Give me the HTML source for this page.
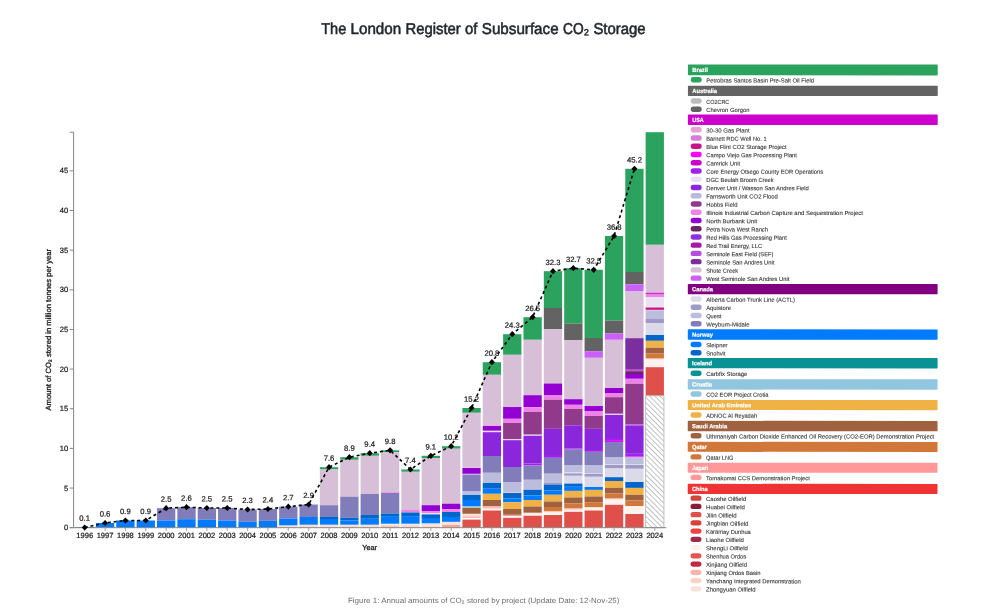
<!DOCTYPE html>
<html lang="en"><head><meta charset="utf-8"><title>The London Register of Subsurface CO2 Storage</title>
<style>
html,body{margin:0;padding:0;background:#fff;}
body{width:1000px;height:610px;overflow:hidden;font-family:"Liberation Sans",sans-serif;}
svg{display:block;filter:blur(0.35px);}
text{font-family:"Liberation Sans",sans-serif;text-rendering:geometricPrecision;}
.tick{font-size:7.55px;fill:#1a1a1a;stroke:#1a1a1a;stroke-width:0.22px;}
.val{font-size:7.7px;fill:#1a1a1a;text-anchor:middle;stroke:#1a1a1a;stroke-width:0.22px;}
.lh{font-size:6.0px;font-weight:bold;fill:#fff;stroke:#fff;stroke-width:0.2px;}
.ll{font-size:5.85px;fill:#333;stroke:#333;stroke-width:0.1px;}
</style></head><body>
<svg width="1000" height="610" viewBox="0 0 1000 610">
<defs><pattern id="hatch" patternUnits="userSpaceOnUse" width="3.65" height="3.65" patternTransform="rotate(-45)"><rect width="3.65" height="3.65" fill="#fff"/><line x1="0" y1="0" x2="0" y2="3.65" stroke="#808488" stroke-width="1.0"/></pattern></defs>
<rect width="1000" height="610" fill="#fff"/>
<text y="33.9" font-size="15.7px" fill="#24282e" stroke="#24282e" stroke-width="0.55"><tspan x="321.2" textLength="25.1" lengthAdjust="spacingAndGlyphs">The</tspan> <tspan x="350.5" textLength="50.7" lengthAdjust="spacingAndGlyphs">London</tspan> <tspan x="405.4" textLength="55.4" lengthAdjust="spacingAndGlyphs">Register</tspan> <tspan x="465" textLength="12.4" lengthAdjust="spacingAndGlyphs">of</tspan> <tspan x="481.8" textLength="76.8" lengthAdjust="spacingAndGlyphs">Subsurface</tspan> <tspan x="563" textLength="26" lengthAdjust="spacingAndGlyphs">CO₂</tspan> <tspan x="593.4" textLength="52.2" lengthAdjust="spacingAndGlyphs">Storage</tspan></text>
<g shape-rendering="auto">
<rect x="75.55" y="527.1" width="18.3" height="0.9" fill="#007bff"/>
<rect x="95.91" y="523" width="18.3" height="4.7" fill="#007bff"/>
<rect x="116.27" y="520.5" width="18.3" height="7.2" fill="#007bff"/>
<rect x="136.63" y="520.5" width="18.3" height="7.2" fill="#007bff"/>
<rect x="156.99" y="508.2" width="18.3" height="12.3" fill="#807dba"/>
<rect x="156.99" y="520.5" width="18.3" height="7.2" fill="#007bff"/>
<rect x="177.35" y="507.2" width="18.3" height="12" fill="#807dba"/>
<rect x="177.35" y="519.2" width="18.3" height="8.5" fill="#007bff"/>
<rect x="197.71" y="508" width="18.3" height="11.8" fill="#807dba"/>
<rect x="197.71" y="519.8" width="18.3" height="7.9" fill="#007bff"/>
<rect x="218.07" y="508" width="18.3" height="12.5" fill="#807dba"/>
<rect x="218.07" y="520.5" width="18.3" height="7.2" fill="#007bff"/>
<rect x="238.43" y="509.5" width="18.3" height="12.3" fill="#807dba"/>
<rect x="238.43" y="521.8" width="18.3" height="5.9" fill="#007bff"/>
<rect x="258.79" y="509" width="18.3" height="11.8" fill="#807dba"/>
<rect x="258.79" y="520.8" width="18.3" height="6.9" fill="#007bff"/>
<rect x="279.15" y="506.7" width="18.3" height="11.8" fill="#807dba"/>
<rect x="279.15" y="518.5" width="18.3" height="6.9" fill="#007bff"/>
<rect x="279.15" y="525.9" width="18.3" height="1.8" fill="#fdd9cc"/>
<rect x="299.51" y="504.5" width="18.3" height="12.5" fill="#807dba"/>
<rect x="299.51" y="517" width="18.3" height="7.7" fill="#007bff"/>
<rect x="299.51" y="525.2" width="18.3" height="2.5" fill="#fdd9cc"/>
<rect x="319.87" y="467.2" width="18.3" height="2.3" fill="#2ca25f"/>
<rect x="319.87" y="469.5" width="18.3" height="35.7" fill="#d8bfd8"/>
<rect x="319.87" y="505.2" width="18.3" height="11.8" fill="#807dba"/>
<rect x="319.87" y="517" width="18.3" height="2" fill="#0066cc"/>
<rect x="319.87" y="519" width="18.3" height="5.7" fill="#007bff"/>
<rect x="319.87" y="525.2" width="18.3" height="2.5" fill="#fdd9cc"/>
<rect x="340.23" y="457.2" width="18.3" height="2.6" fill="#2ca25f"/>
<rect x="340.23" y="459.8" width="18.3" height="36.9" fill="#d8bfd8"/>
<rect x="340.23" y="496.7" width="18.3" height="21" fill="#807dba"/>
<rect x="340.23" y="517.7" width="18.3" height="2.8" fill="#0066cc"/>
<rect x="340.23" y="520.5" width="18.3" height="4.2" fill="#007bff"/>
<rect x="340.23" y="525.2" width="18.3" height="2.5" fill="#fdd9cc"/>
<rect x="360.59" y="453.2" width="18.3" height="2.6" fill="#2ca25f"/>
<rect x="360.59" y="455.8" width="18.3" height="38.2" fill="#d8bfd8"/>
<rect x="360.59" y="494" width="18.3" height="21" fill="#807dba"/>
<rect x="360.59" y="515" width="18.3" height="3.8" fill="#0066cc"/>
<rect x="360.59" y="518.8" width="18.3" height="5.9" fill="#007bff"/>
<rect x="360.59" y="525.2" width="18.3" height="2.5" fill="#fdd9cc"/>
<rect x="380.95" y="450.3" width="18.3" height="1.9" fill="#2ca25f"/>
<rect x="380.95" y="452.2" width="18.3" height="40" fill="#d8bfd8"/>
<rect x="380.95" y="492.2" width="18.3" height="0.8" fill="#ee82e6"/>
<rect x="380.95" y="493" width="18.3" height="20.5" fill="#807dba"/>
<rect x="380.95" y="513.5" width="18.3" height="3.3" fill="#0066cc"/>
<rect x="380.95" y="516.8" width="18.3" height="6.9" fill="#007bff"/>
<rect x="380.95" y="524.4" width="18.3" height="1.6" fill="#fdd9cc"/>
<rect x="380.95" y="526" width="18.3" height="1.7" fill="#fcc6b8"/>
<rect x="401.31" y="469.5" width="18.3" height="2.3" fill="#2ca25f"/>
<rect x="401.31" y="471.8" width="18.3" height="38.2" fill="#d8bfd8"/>
<rect x="401.31" y="510" width="18.3" height="2.5" fill="#ee82e6"/>
<rect x="401.31" y="512.5" width="18.3" height="4.3" fill="#0066cc"/>
<rect x="401.31" y="516.8" width="18.3" height="6.9" fill="#007bff"/>
<rect x="401.31" y="524.4" width="18.3" height="3.3" fill="#fdd9cc"/>
<rect x="421.67" y="455.8" width="18.3" height="2.2" fill="#2ca25f"/>
<rect x="421.67" y="458" width="18.3" height="47.2" fill="#d8bfd8"/>
<rect x="421.67" y="505.2" width="18.3" height="5.8" fill="#9400d3"/>
<rect x="421.67" y="511" width="18.3" height="2.2" fill="#ee82e6"/>
<rect x="421.67" y="513.2" width="18.3" height="1.2" fill="#e8e2f2"/>
<rect x="421.67" y="514.4" width="18.3" height="3.6" fill="#0066cc"/>
<rect x="421.67" y="518" width="18.3" height="5" fill="#007bff"/>
<rect x="421.67" y="523" width="18.3" height="0.8" fill="#92c5de"/>
<rect x="421.67" y="524" width="18.3" height="1.6" fill="#fbe2d8"/>
<rect x="421.67" y="525.6" width="18.3" height="2.1" fill="#fdd9cc"/>
<rect x="442.03" y="446.2" width="18.3" height="2.5" fill="#2ca25f"/>
<rect x="442.03" y="448.7" width="18.3" height="55" fill="#d8bfd8"/>
<rect x="442.03" y="503.7" width="18.3" height="5.5" fill="#9400d3"/>
<rect x="442.03" y="509.2" width="18.3" height="2.8" fill="#ee82e6"/>
<rect x="442.03" y="512" width="18.3" height="5" fill="#0066cc"/>
<rect x="442.03" y="517" width="18.3" height="4.8" fill="#007bff"/>
<rect x="442.03" y="522" width="18.3" height="3" fill="#fbe2d8"/>
<rect x="442.03" y="525" width="18.3" height="2.7" fill="#f4a598"/>
<rect x="462.39" y="408" width="18.3" height="4.8" fill="#2ca25f"/>
<rect x="462.39" y="412.8" width="18.3" height="55" fill="#d8bfd8"/>
<rect x="462.39" y="468" width="18.3" height="5.8" fill="#9400d3"/>
<rect x="462.39" y="474.5" width="18.3" height="16.5" fill="#807dba"/>
<rect x="462.39" y="491" width="18.3" height="3.6" fill="#bcbddc"/>
<rect x="462.39" y="494.8" width="18.3" height="5.2" fill="#0066cc"/>
<rect x="462.39" y="500" width="18.3" height="6" fill="#007bff"/>
<rect x="462.39" y="506" width="18.3" height="1.6" fill="#92c5de"/>
<rect x="462.39" y="507.8" width="18.3" height="6" fill="#a0613e"/>
<rect x="462.39" y="513.9" width="18.3" height="2.5" fill="#fbe2d8"/>
<rect x="462.39" y="516.4" width="18.3" height="1.5" fill="#fbb4ae"/>
<rect x="462.39" y="519.6" width="18.3" height="8.1" fill="#e0504a"/>
<rect x="482.75" y="362.2" width="18.3" height="12.6" fill="#2ca25f"/>
<rect x="482.75" y="374.8" width="18.3" height="50.2" fill="#d8bfd8"/>
<rect x="482.75" y="425.3" width="18.3" height="0.7" fill="#ee82e6"/>
<rect x="482.75" y="426" width="18.3" height="4.8" fill="#9400d3"/>
<rect x="482.75" y="430.8" width="18.3" height="1.4" fill="#e8e2f2"/>
<rect x="482.75" y="432.2" width="18.3" height="23.8" fill="#8a26dc"/>
<rect x="482.75" y="456" width="18.3" height="16.8" fill="#807dba"/>
<rect x="482.75" y="472.8" width="18.3" height="9.8" fill="#bcbddc"/>
<rect x="482.75" y="482.8" width="18.3" height="5.4" fill="#0066cc"/>
<rect x="482.75" y="488.2" width="18.3" height="5.6" fill="#007bff"/>
<rect x="482.75" y="493.8" width="18.3" height="6.2" fill="#f0b244"/>
<rect x="482.75" y="500" width="18.3" height="6" fill="#a0613e"/>
<rect x="482.75" y="506" width="18.3" height="2.5" fill="#fbb4ae"/>
<rect x="482.75" y="508.5" width="18.3" height="0.9" fill="#fdd9cc"/>
<rect x="482.75" y="510.5" width="18.3" height="17.2" fill="#e0504a"/>
<rect x="503.11" y="334.2" width="18.3" height="20.6" fill="#2ca25f"/>
<rect x="503.11" y="354.8" width="18.3" height="52.2" fill="#d8bfd8"/>
<rect x="503.11" y="407" width="18.3" height="11.8" fill="#9400d3"/>
<rect x="503.11" y="418.8" width="18.3" height="4.2" fill="#ee82e6"/>
<rect x="503.11" y="423" width="18.3" height="16" fill="#913a8c"/>
<rect x="503.11" y="439" width="18.3" height="1.2" fill="#e4d9f0"/>
<rect x="503.11" y="440.2" width="18.3" height="26.8" fill="#8a26dc"/>
<rect x="503.11" y="467" width="18.3" height="15" fill="#807dba"/>
<rect x="503.11" y="482" width="18.3" height="10.6" fill="#bcbddc"/>
<rect x="503.11" y="492.6" width="18.3" height="0.4" fill="#fbb4ae"/>
<rect x="503.11" y="493" width="18.3" height="5.5" fill="#0066cc"/>
<rect x="503.11" y="498.5" width="18.3" height="3.8" fill="#007bff"/>
<rect x="503.11" y="502.3" width="18.3" height="6.7" fill="#f0b244"/>
<rect x="503.11" y="509" width="18.3" height="5.8" fill="#a0613e"/>
<rect x="503.11" y="514.9" width="18.3" height="1.3" fill="#f29a94"/>
<rect x="503.11" y="516.2" width="18.3" height="0.8" fill="#fff1ee"/>
<rect x="503.11" y="517.8" width="18.3" height="9.9" fill="#e0504a"/>
<rect x="523.47" y="317.2" width="18.3" height="22.6" fill="#2ca25f"/>
<rect x="523.47" y="339.8" width="18.3" height="55.4" fill="#d8bfd8"/>
<rect x="523.47" y="395.2" width="18.3" height="12" fill="#9400d3"/>
<rect x="523.47" y="407.2" width="18.3" height="4.8" fill="#ee82e6"/>
<rect x="523.47" y="412" width="18.3" height="22.7" fill="#913a8c"/>
<rect x="523.47" y="434.7" width="18.3" height="1.1" fill="#e4d9f0"/>
<rect x="523.47" y="435.8" width="18.3" height="27.7" fill="#8a26dc"/>
<rect x="523.47" y="463.5" width="18.3" height="2" fill="#a020f0"/>
<rect x="523.47" y="465.5" width="18.3" height="14.3" fill="#807dba"/>
<rect x="523.47" y="479.8" width="18.3" height="10" fill="#bcbddc"/>
<rect x="523.47" y="489.8" width="18.3" height="5.7" fill="#0066cc"/>
<rect x="523.47" y="495.5" width="18.3" height="4.5" fill="#007bff"/>
<rect x="523.47" y="500" width="18.3" height="6.5" fill="#f0b244"/>
<rect x="523.47" y="506.5" width="18.3" height="6.3" fill="#a0613e"/>
<rect x="523.47" y="512.8" width="18.3" height="0.8" fill="#fdd9cc"/>
<rect x="523.47" y="513.6" width="18.3" height="1.4" fill="#fff1ee"/>
<rect x="523.47" y="515.7" width="18.3" height="12" fill="#e0504a"/>
<rect x="543.83" y="271.2" width="18.3" height="36.8" fill="#2ca25f"/>
<rect x="543.83" y="308" width="18.3" height="21.2" fill="#636363"/>
<rect x="543.83" y="329.2" width="18.3" height="54.3" fill="#d8bfd8"/>
<rect x="543.83" y="383.5" width="18.3" height="11.5" fill="#9400d3"/>
<rect x="543.83" y="395" width="18.3" height="4.8" fill="#ee82e6"/>
<rect x="543.83" y="399.8" width="18.3" height="29" fill="#913a8c"/>
<rect x="543.83" y="428.8" width="18.3" height="26.2" fill="#8a26dc"/>
<rect x="543.83" y="455" width="18.3" height="2.8" fill="#a020f0"/>
<rect x="543.83" y="457.8" width="18.3" height="15.9" fill="#807dba"/>
<rect x="543.83" y="473.7" width="18.3" height="9.1" fill="#bcbddc"/>
<rect x="543.83" y="482.8" width="18.3" height="1.8" fill="#9e9ac8"/>
<rect x="543.83" y="484.6" width="18.3" height="5.9" fill="#0066cc"/>
<rect x="543.83" y="490.5" width="18.3" height="4.3" fill="#007bff"/>
<rect x="543.83" y="494.8" width="18.3" height="6.7" fill="#f0b244"/>
<rect x="543.83" y="501.5" width="18.3" height="5.5" fill="#a0613e"/>
<rect x="543.83" y="507" width="18.3" height="4.5" fill="#d2773a"/>
<rect x="543.83" y="511.5" width="18.3" height="0.9" fill="#fdd9cc"/>
<rect x="543.83" y="512.4" width="18.3" height="2" fill="#fff1ee"/>
<rect x="543.83" y="515" width="18.3" height="12.7" fill="#e0504a"/>
<rect x="564.19" y="268.2" width="18.3" height="55.3" fill="#2ca25f"/>
<rect x="564.19" y="323.5" width="18.3" height="16.5" fill="#636363"/>
<rect x="564.19" y="340" width="18.3" height="59.2" fill="#d8bfd8"/>
<rect x="564.19" y="399.2" width="18.3" height="5.6" fill="#9400d3"/>
<rect x="564.19" y="404.8" width="18.3" height="4.2" fill="#ee82e6"/>
<rect x="564.19" y="409" width="18.3" height="16.3" fill="#913a8c"/>
<rect x="564.19" y="425.3" width="18.3" height="23.2" fill="#8a26dc"/>
<rect x="564.19" y="448.5" width="18.3" height="1.1" fill="#a020f0"/>
<rect x="564.19" y="449.6" width="18.3" height="15.4" fill="#807dba"/>
<rect x="564.19" y="465" width="18.3" height="7.2" fill="#bcbddc"/>
<rect x="564.19" y="472.2" width="18.3" height="1.2" fill="#d6d6e8"/>
<rect x="564.19" y="473.4" width="18.3" height="2.4" fill="#9e9ac8"/>
<rect x="564.19" y="475.8" width="18.3" height="7.8" fill="#dadaeb"/>
<rect x="564.19" y="483.6" width="18.3" height="3.2" fill="#0066cc"/>
<rect x="564.19" y="486.8" width="18.3" height="4.1" fill="#007bff"/>
<rect x="564.19" y="490.9" width="18.3" height="6.6" fill="#f0b244"/>
<rect x="564.19" y="497.5" width="18.3" height="6" fill="#a0613e"/>
<rect x="564.19" y="503.5" width="18.3" height="4.5" fill="#d2773a"/>
<rect x="564.19" y="508" width="18.3" height="1.7" fill="#fbb4ae"/>
<rect x="564.19" y="509.7" width="18.3" height="1.5" fill="#fff1ee"/>
<rect x="564.19" y="511.8" width="18.3" height="15.9" fill="#e0504a"/>
<rect x="584.55" y="269.8" width="18.3" height="68.2" fill="#2ca25f"/>
<rect x="584.55" y="338" width="18.3" height="13.2" fill="#636363"/>
<rect x="584.55" y="351.2" width="18.3" height="6.6" fill="#cc60fc"/>
<rect x="584.55" y="357.8" width="18.3" height="48.2" fill="#d8bfd8"/>
<rect x="584.55" y="406" width="18.3" height="5" fill="#9400d3"/>
<rect x="584.55" y="411" width="18.3" height="5" fill="#ee82e6"/>
<rect x="584.55" y="416" width="18.3" height="12.8" fill="#913a8c"/>
<rect x="584.55" y="428.8" width="18.3" height="21.2" fill="#8a26dc"/>
<rect x="584.55" y="450" width="18.3" height="1.8" fill="#a020f0"/>
<rect x="584.55" y="451.8" width="18.3" height="13.2" fill="#807dba"/>
<rect x="584.55" y="465" width="18.3" height="8" fill="#bcbddc"/>
<rect x="584.55" y="473" width="18.3" height="1" fill="#d6d6e8"/>
<rect x="584.55" y="474" width="18.3" height="2.8" fill="#9e9ac8"/>
<rect x="584.55" y="476.8" width="18.3" height="10.2" fill="#dadaeb"/>
<rect x="584.55" y="487" width="18.3" height="2.9" fill="#007bff"/>
<rect x="584.55" y="489.9" width="18.3" height="6.6" fill="#f0b244"/>
<rect x="584.55" y="496.5" width="18.3" height="5.7" fill="#a0613e"/>
<rect x="584.55" y="502.2" width="18.3" height="5" fill="#d2773a"/>
<rect x="584.55" y="507.2" width="18.3" height="0.8" fill="#fdd9cc"/>
<rect x="584.55" y="508" width="18.3" height="2" fill="#fff1ee"/>
<rect x="584.55" y="510.5" width="18.3" height="17.2" fill="#e0504a"/>
<rect x="604.91" y="236" width="18.3" height="84.5" fill="#2ca25f"/>
<rect x="604.91" y="320.5" width="18.3" height="13" fill="#636363"/>
<rect x="604.91" y="333.5" width="18.3" height="6.3" fill="#cc60fc"/>
<rect x="604.91" y="339.8" width="18.3" height="48.2" fill="#d8bfd8"/>
<rect x="604.91" y="388" width="18.3" height="5" fill="#9400d3"/>
<rect x="604.91" y="393" width="18.3" height="4.2" fill="#ee82e6"/>
<rect x="604.91" y="397.2" width="18.3" height="16.6" fill="#913a8c"/>
<rect x="604.91" y="413.8" width="18.3" height="1.1" fill="#e8e2f2"/>
<rect x="604.91" y="414.9" width="18.3" height="23.1" fill="#8a26dc"/>
<rect x="604.91" y="438" width="18.3" height="2.9" fill="#a020f0"/>
<rect x="604.91" y="440.9" width="18.3" height="1.1" fill="#ff00ff"/>
<rect x="604.91" y="442" width="18.3" height="15" fill="#807dba"/>
<rect x="604.91" y="457" width="18.3" height="7.2" fill="#bcbddc"/>
<rect x="604.91" y="464.2" width="18.3" height="0.8" fill="#d6d6e8"/>
<rect x="604.91" y="465" width="18.3" height="3.5" fill="#9e9ac8"/>
<rect x="604.91" y="468.5" width="18.3" height="8.7" fill="#dadaeb"/>
<rect x="604.91" y="477.2" width="18.3" height="3.8" fill="#0066cc"/>
<rect x="604.91" y="481" width="18.3" height="6.8" fill="#f0b244"/>
<rect x="604.91" y="487.8" width="18.3" height="5.7" fill="#a0613e"/>
<rect x="604.91" y="493.5" width="18.3" height="5" fill="#d2773a"/>
<rect x="604.91" y="498.5" width="18.3" height="1" fill="#fbb4ae"/>
<rect x="604.91" y="499.5" width="18.3" height="5.3" fill="#fff1ee"/>
<rect x="604.91" y="504.8" width="18.3" height="22.9" fill="#e0504a"/>
<rect x="625.27" y="168.8" width="18.3" height="103.2" fill="#2ca25f"/>
<rect x="625.27" y="272" width="18.3" height="12.3" fill="#636363"/>
<rect x="625.27" y="284.3" width="18.3" height="6.7" fill="#cc60fc"/>
<rect x="625.27" y="291" width="18.3" height="47.2" fill="#d8bfd8"/>
<rect x="625.27" y="338.2" width="18.3" height="30.8" fill="#7b2f9e"/>
<rect x="625.27" y="369" width="18.3" height="1.6" fill="#b64fe0"/>
<rect x="625.27" y="370.6" width="18.3" height="1.1" fill="#85007f"/>
<rect x="625.27" y="371.7" width="18.3" height="2.3" fill="#6b2565"/>
<rect x="625.27" y="374" width="18.3" height="4.8" fill="#9400d3"/>
<rect x="625.27" y="378.8" width="18.3" height="5" fill="#ee82e6"/>
<rect x="625.27" y="383.8" width="18.3" height="40.5" fill="#913a8c"/>
<rect x="625.27" y="424.3" width="18.3" height="1.2" fill="#b64fe0"/>
<rect x="625.27" y="425.5" width="18.3" height="28.3" fill="#8a26dc"/>
<rect x="625.27" y="453.8" width="18.3" height="2.6" fill="#a020f0"/>
<rect x="625.27" y="456.4" width="18.3" height="0.6" fill="#ff00ff"/>
<rect x="625.27" y="457" width="18.3" height="7.2" fill="#bcbddc"/>
<rect x="625.27" y="464.2" width="18.3" height="0.8" fill="#d6d6e8"/>
<rect x="625.27" y="465" width="18.3" height="3.8" fill="#9e9ac8"/>
<rect x="625.27" y="468.8" width="18.3" height="13.2" fill="#dadaeb"/>
<rect x="625.27" y="482" width="18.3" height="5.9" fill="#0066cc"/>
<rect x="625.27" y="487.9" width="18.3" height="6.9" fill="#f0b244"/>
<rect x="625.27" y="494.8" width="18.3" height="5.7" fill="#a0613e"/>
<rect x="625.27" y="500.5" width="18.3" height="5.5" fill="#d2773a"/>
<rect x="625.27" y="506" width="18.3" height="8" fill="#fff1ee"/>
<rect x="625.27" y="514" width="18.3" height="13.7" fill="#e0504a"/>
<rect x="645.63" y="132.2" width="18.3" height="112.6" fill="#2ca25f"/>
<rect x="645.63" y="244.8" width="18.3" height="48" fill="#d8bfd8"/>
<rect x="645.63" y="292.8" width="18.3" height="1.1" fill="#cc00cc"/>
<rect x="645.63" y="293.9" width="18.3" height="3.2" fill="#ee82e6"/>
<rect x="645.63" y="297.1" width="18.3" height="10.4" fill="#e8e2f2"/>
<rect x="645.63" y="307.5" width="18.3" height="2.4" fill="#c71585"/>
<rect x="645.63" y="309.9" width="18.3" height="0.5" fill="#d8bfd8"/>
<rect x="645.63" y="310.4" width="18.3" height="8.1" fill="#bcbddc"/>
<rect x="645.63" y="318.5" width="18.3" height="4.5" fill="#9e9ac8"/>
<rect x="645.63" y="323" width="18.3" height="12" fill="#dadaeb"/>
<rect x="645.63" y="335" width="18.3" height="5.8" fill="#0066cc"/>
<rect x="645.63" y="340.8" width="18.3" height="7" fill="#f0b244"/>
<rect x="645.63" y="347.8" width="18.3" height="5.7" fill="#a0613e"/>
<rect x="645.63" y="353.5" width="18.3" height="5" fill="#d2773a"/>
<rect x="645.63" y="358.5" width="18.3" height="1" fill="#fbb4ae"/>
<rect x="645.63" y="359.5" width="18.3" height="7.7" fill="#fff1ee"/>
<rect x="645.63" y="367.2" width="18.3" height="28.6" fill="#e0504a"/>
<rect x="645.63" y="395.8" width="18.3" height="131.9" fill="url(#hatch)" stroke="#b8b8b8" stroke-width="0.9"/>
</g>
<g stroke="#858585" stroke-width="1" fill="none">
<path d="M69.7,132.2 H73.6 V527.7 H69.7"/>
<path d="M73.6,527.7 H666.3"/>
<line x1="69.7" x2="73.6" y1="527.7" y2="527.7"/>
<line x1="69.7" x2="73.6" y1="488.05" y2="488.05"/>
<line x1="69.7" x2="73.6" y1="448.4" y2="448.4"/>
<line x1="69.7" x2="73.6" y1="408.75" y2="408.75"/>
<line x1="69.7" x2="73.6" y1="369.1" y2="369.1"/>
<line x1="69.7" x2="73.6" y1="329.45" y2="329.45"/>
<line x1="69.7" x2="73.6" y1="289.8" y2="289.8"/>
<line x1="69.7" x2="73.6" y1="250.15" y2="250.15"/>
<line x1="69.7" x2="73.6" y1="210.5" y2="210.5"/>
<line x1="69.7" x2="73.6" y1="170.85" y2="170.85"/>
<line x1="84.7" x2="84.7" y1="527.7" y2="531" stroke="#909090" stroke-width="0.8"/>
<line x1="105.06" x2="105.06" y1="527.7" y2="531" stroke="#909090" stroke-width="0.8"/>
<line x1="125.42" x2="125.42" y1="527.7" y2="531" stroke="#909090" stroke-width="0.8"/>
<line x1="145.78" x2="145.78" y1="527.7" y2="531" stroke="#909090" stroke-width="0.8"/>
<line x1="166.14" x2="166.14" y1="527.7" y2="531" stroke="#909090" stroke-width="0.8"/>
<line x1="186.5" x2="186.5" y1="527.7" y2="531" stroke="#909090" stroke-width="0.8"/>
<line x1="206.86" x2="206.86" y1="527.7" y2="531" stroke="#909090" stroke-width="0.8"/>
<line x1="227.22" x2="227.22" y1="527.7" y2="531" stroke="#909090" stroke-width="0.8"/>
<line x1="247.58" x2="247.58" y1="527.7" y2="531" stroke="#909090" stroke-width="0.8"/>
<line x1="267.94" x2="267.94" y1="527.7" y2="531" stroke="#909090" stroke-width="0.8"/>
<line x1="288.3" x2="288.3" y1="527.7" y2="531" stroke="#909090" stroke-width="0.8"/>
<line x1="308.66" x2="308.66" y1="527.7" y2="531" stroke="#909090" stroke-width="0.8"/>
<line x1="329.02" x2="329.02" y1="527.7" y2="531" stroke="#909090" stroke-width="0.8"/>
<line x1="349.38" x2="349.38" y1="527.7" y2="531" stroke="#909090" stroke-width="0.8"/>
<line x1="369.74" x2="369.74" y1="527.7" y2="531" stroke="#909090" stroke-width="0.8"/>
<line x1="390.1" x2="390.1" y1="527.7" y2="531" stroke="#909090" stroke-width="0.8"/>
<line x1="410.46" x2="410.46" y1="527.7" y2="531" stroke="#909090" stroke-width="0.8"/>
<line x1="430.82" x2="430.82" y1="527.7" y2="531" stroke="#909090" stroke-width="0.8"/>
<line x1="451.18" x2="451.18" y1="527.7" y2="531" stroke="#909090" stroke-width="0.8"/>
<line x1="471.54" x2="471.54" y1="527.7" y2="531" stroke="#909090" stroke-width="0.8"/>
<line x1="491.9" x2="491.9" y1="527.7" y2="531" stroke="#909090" stroke-width="0.8"/>
<line x1="512.26" x2="512.26" y1="527.7" y2="531" stroke="#909090" stroke-width="0.8"/>
<line x1="532.62" x2="532.62" y1="527.7" y2="531" stroke="#909090" stroke-width="0.8"/>
<line x1="552.98" x2="552.98" y1="527.7" y2="531" stroke="#909090" stroke-width="0.8"/>
<line x1="573.34" x2="573.34" y1="527.7" y2="531" stroke="#909090" stroke-width="0.8"/>
<line x1="593.7" x2="593.7" y1="527.7" y2="531" stroke="#909090" stroke-width="0.8"/>
<line x1="614.06" x2="614.06" y1="527.7" y2="531" stroke="#909090" stroke-width="0.8"/>
<line x1="634.42" x2="634.42" y1="527.7" y2="531" stroke="#909090" stroke-width="0.8"/>
<line x1="654.78" x2="654.78" y1="527.7" y2="531" stroke="#909090" stroke-width="0.8"/>
</g>
<g class="tick">
<text x="68.1" y="530.3" text-anchor="end">0</text>
<text x="68.1" y="490.65" text-anchor="end">5</text>
<text x="68.1" y="451" text-anchor="end">10</text>
<text x="68.1" y="411.35" text-anchor="end">15</text>
<text x="68.1" y="371.7" text-anchor="end">20</text>
<text x="68.1" y="332.05" text-anchor="end">25</text>
<text x="68.1" y="292.4" text-anchor="end">30</text>
<text x="68.1" y="252.75" text-anchor="end">35</text>
<text x="68.1" y="213.1" text-anchor="end">40</text>
<text x="68.1" y="173.45" text-anchor="end">45</text>
<text x="84.7" y="537.8" text-anchor="middle">1996</text>
<text x="105.06" y="537.8" text-anchor="middle">1997</text>
<text x="125.42" y="537.8" text-anchor="middle">1998</text>
<text x="145.78" y="537.8" text-anchor="middle">1999</text>
<text x="166.14" y="537.8" text-anchor="middle">2000</text>
<text x="186.5" y="537.8" text-anchor="middle">2001</text>
<text x="206.86" y="537.8" text-anchor="middle">2002</text>
<text x="227.22" y="537.8" text-anchor="middle">2003</text>
<text x="247.58" y="537.8" text-anchor="middle">2004</text>
<text x="267.94" y="537.8" text-anchor="middle">2005</text>
<text x="288.3" y="537.8" text-anchor="middle">2006</text>
<text x="308.66" y="537.8" text-anchor="middle">2007</text>
<text x="329.02" y="537.8" text-anchor="middle">2008</text>
<text x="349.38" y="537.8" text-anchor="middle">2009</text>
<text x="369.74" y="537.8" text-anchor="middle">2010</text>
<text x="390.1" y="537.8" text-anchor="middle">2011</text>
<text x="410.46" y="537.8" text-anchor="middle">2012</text>
<text x="430.82" y="537.8" text-anchor="middle">2013</text>
<text x="451.18" y="537.8" text-anchor="middle">2014</text>
<text x="471.54" y="537.8" text-anchor="middle">2015</text>
<text x="491.9" y="537.8" text-anchor="middle">2016</text>
<text x="512.26" y="537.8" text-anchor="middle">2017</text>
<text x="532.62" y="537.8" text-anchor="middle">2018</text>
<text x="552.98" y="537.8" text-anchor="middle">2019</text>
<text x="573.34" y="537.8" text-anchor="middle">2020</text>
<text x="593.7" y="537.8" text-anchor="middle">2021</text>
<text x="614.06" y="537.8" text-anchor="middle">2022</text>
<text x="634.42" y="537.8" text-anchor="middle">2023</text>
<text x="654.78" y="537.8" text-anchor="middle">2024</text>
<text x="369.6" y="549.6" text-anchor="middle" font-size="7.3px" stroke-width="0.3px">Year</text>
<text transform="translate(51.3,329.7) rotate(-90)" text-anchor="middle" font-size="7.6px" stroke-width="0.3px" textLength="161.7" lengthAdjust="spacingAndGlyphs">Amount of CO₂ stored in million tonnes per year</text>
</g>
<path d="M84.7,527.5L105.06,523L125.42,520.5L145.78,520.5L166.14,508.2L186.5,507.2L206.86,508L227.22,508L247.58,509.5L267.94,509L288.3,506.7L308.66,504.5L329.02,467.2L349.38,457.2L369.74,453.2L390.1,450.3L410.46,469.5L430.82,455.8L451.18,446.2L471.54,408L491.9,362.2L512.26,334.2L532.62,317.2L552.98,271.2L573.34,268.2L593.7,269.8L614.06,236L634.42,168.8" fill="none" stroke="#000" stroke-width="1.6" stroke-dasharray="3 2.9"/>
<g fill="#000">
<path d="M84.7,524.4L87.7,527.5L84.7,530.6L81.7,527.5Z"/>
<path d="M105.06,519.9L108.06,523L105.06,526.1L102.06,523Z"/>
<path d="M125.42,517.4L128.42,520.5L125.42,523.6L122.42,520.5Z"/>
<path d="M145.78,517.4L148.78,520.5L145.78,523.6L142.78,520.5Z"/>
<path d="M166.14,505.1L169.14,508.2L166.14,511.3L163.14,508.2Z"/>
<path d="M186.5,504.1L189.5,507.2L186.5,510.3L183.5,507.2Z"/>
<path d="M206.86,504.9L209.86,508L206.86,511.1L203.86,508Z"/>
<path d="M227.22,504.9L230.22,508L227.22,511.1L224.22,508Z"/>
<path d="M247.58,506.4L250.58,509.5L247.58,512.6L244.58,509.5Z"/>
<path d="M267.94,505.9L270.94,509L267.94,512.1L264.94,509Z"/>
<path d="M288.3,503.6L291.3,506.7L288.3,509.8L285.3,506.7Z"/>
<path d="M308.66,501.4L311.66,504.5L308.66,507.6L305.66,504.5Z"/>
<path d="M329.02,464.1L332.02,467.2L329.02,470.3L326.02,467.2Z"/>
<path d="M349.38,454.1L352.38,457.2L349.38,460.3L346.38,457.2Z"/>
<path d="M369.74,450.1L372.74,453.2L369.74,456.3L366.74,453.2Z"/>
<path d="M390.1,447.2L393.1,450.3L390.1,453.4L387.1,450.3Z"/>
<path d="M410.46,466.4L413.46,469.5L410.46,472.6L407.46,469.5Z"/>
<path d="M430.82,452.7L433.82,455.8L430.82,458.9L427.82,455.8Z"/>
<path d="M451.18,443.1L454.18,446.2L451.18,449.3L448.18,446.2Z"/>
<path d="M471.54,404.9L474.54,408L471.54,411.1L468.54,408Z"/>
<path d="M491.9,359.1L494.9,362.2L491.9,365.3L488.9,362.2Z"/>
<path d="M512.26,331.1L515.26,334.2L512.26,337.3L509.26,334.2Z"/>
<path d="M532.62,314.1L535.62,317.2L532.62,320.3L529.62,317.2Z"/>
<path d="M552.98,268.1L555.98,271.2L552.98,274.3L549.98,271.2Z"/>
<path d="M573.34,265.1L576.34,268.2L573.34,271.3L570.34,268.2Z"/>
<path d="M593.7,266.7L596.7,269.8L593.7,272.9L590.7,269.8Z"/>
<path d="M614.06,232.9L617.06,236L614.06,239.1L611.06,236Z"/>
<path d="M634.42,165.7L637.42,168.8L634.42,171.9L631.42,168.8Z"/>
</g>
<g class="val" transform="rotate(0.03 370 400)">
<text x="84.7" y="520.8">0.1</text>
<text x="105.06" y="516.6">0.6</text>
<text x="125.42" y="514.1">0.9</text>
<text x="145.78" y="514.1">0.9</text>
<text x="166.14" y="501.8">2.5</text>
<text x="186.5" y="500.8">2.6</text>
<text x="206.86" y="501.6">2.5</text>
<text x="227.22" y="501.6">2.5</text>
<text x="247.58" y="503.1">2.3</text>
<text x="267.94" y="502.6">2.4</text>
<text x="288.3" y="500.3">2.7</text>
<text x="308.66" y="498.1">2.9</text>
<text x="329.02" y="460.8">7.6</text>
<text x="349.38" y="450.8">8.9</text>
<text x="369.74" y="446.8">9.4</text>
<text x="390.1" y="443.9">9.8</text>
<text x="410.46" y="463.1">7.4</text>
<text x="430.82" y="449.4">9.1</text>
<text x="451.18" y="439.8">10.2</text>
<text x="471.54" y="401.6">15.2</text>
<text x="491.9" y="355.8">20.8</text>
<text x="512.26" y="327.8">24.3</text>
<text x="532.62" y="310.8">26.5</text>
<text x="552.98" y="264.8">32.3</text>
<text x="573.34" y="261.8">32.7</text>
<text x="593.7" y="263.4">32.5</text>
<text x="614.06" y="229.6">36.8</text>
<text x="634.42" y="162.4">45.2</text>
</g>
<g transform="rotate(0.03 812 330)">
<rect x="687.8" y="64.45" width="249.8" height="10.9" rx="0.7" fill="#2ca25f"/>
<text class="lh" x="692.1" y="72.1" textLength="15.7" lengthAdjust="spacingAndGlyphs">Brazil</text>
<rect x="690.6" y="77.05" width="11" height="5.4" rx="2.7" fill="#2ca25f"/>
<text class="ll" x="706.2" y="82.5" textLength="107.7" lengthAdjust="spacingAndGlyphs">Petrobras Santos Basin Pre-Salt Oil Field</text>
<rect x="687.8" y="85.8" width="249.8" height="10.2" rx="0.7" fill="#636363"/>
<text class="lh" x="692.1" y="93.1" textLength="24.9" lengthAdjust="spacingAndGlyphs">Australia</text>
<rect x="690.6" y="98.4" width="11" height="5.4" rx="2.7" fill="#bdbdbd"/>
<text class="ll" x="706.2" y="103.85" textLength="23" lengthAdjust="spacingAndGlyphs">CO2CRC</text>
<rect x="690.6" y="106.64" width="11" height="5.4" rx="2.7" fill="#636363"/>
<text class="ll" x="706.2" y="112.09" textLength="43.1" lengthAdjust="spacingAndGlyphs">Chevron Gorgon</text>
<rect x="687.8" y="114.45" width="249.8" height="10.5" rx="0.7" fill="#cc00cc"/>
<text class="lh" x="692.1" y="121.9" textLength="11.6" lengthAdjust="spacingAndGlyphs">USA</text>
<rect x="690.6" y="127.1" width="11" height="5.4" rx="2.7" fill="#e6a0d2"/>
<text class="ll" x="706.2" y="132.55" textLength="43.3" lengthAdjust="spacingAndGlyphs">30-30 Gas Plant</text>
<rect x="690.6" y="135.35" width="11" height="5.4" rx="2.7" fill="#d67bd8"/>
<text class="ll" x="706.2" y="140.8" textLength="60.4" lengthAdjust="spacingAndGlyphs">Barnett RDC Well No. 1</text>
<rect x="690.6" y="143.59" width="11" height="5.4" rx="2.7" fill="#c71585"/>
<text class="ll" x="706.2" y="149.04" textLength="80.4" lengthAdjust="spacingAndGlyphs">Blue Flint CO2 Storage Project</text>
<rect x="690.6" y="151.84" width="11" height="5.4" rx="2.7" fill="#ff00ff"/>
<text class="ll" x="706.2" y="157.29" textLength="90.7" lengthAdjust="spacingAndGlyphs">Campo Viejo Gas Processing Plant</text>
<rect x="690.6" y="160.08" width="11" height="5.4" rx="2.7" fill="#cc00cc"/>
<text class="ll" x="706.2" y="165.53" textLength="33.9" lengthAdjust="spacingAndGlyphs">Camrick Unit</text>
<rect x="690.6" y="168.33" width="11" height="5.4" rx="2.7" fill="#a020f0"/>
<text class="ll" x="706.2" y="173.78" textLength="116.9" lengthAdjust="spacingAndGlyphs">Core Energy Otsego County EOR Operations</text>
<rect x="690.6" y="176.57" width="11" height="5.4" rx="2.7" fill="#e8e2f2"/>
<text class="ll" x="706.2" y="182.02" textLength="67.4" lengthAdjust="spacingAndGlyphs">DGC Beulah Broom Creek</text>
<rect x="690.6" y="184.82" width="11" height="5.4" rx="2.7" fill="#8a26dc"/>
<text class="ll" x="706.2" y="190.27" textLength="102.6" lengthAdjust="spacingAndGlyphs">Denver Unit / Wasson San Andres Field</text>
<rect x="690.6" y="193.06" width="11" height="5.4" rx="2.7" fill="#b9b9de"/>
<text class="ll" x="706.2" y="198.51" textLength="71.5" lengthAdjust="spacingAndGlyphs">Farnsworth Unit CO2 Flood</text>
<rect x="690.6" y="201.31" width="11" height="5.4" rx="2.7" fill="#913a8c"/>
<text class="ll" x="706.2" y="206.76" textLength="31.2" lengthAdjust="spacingAndGlyphs">Hobbs Field</text>
<rect x="690.6" y="209.55" width="11" height="5.4" rx="2.7" fill="#ee82e6"/>
<text class="ll" x="706.2" y="215" textLength="156.7" lengthAdjust="spacingAndGlyphs">Illinois Industrial Carbon Capture and Sequestration Project</text>
<rect x="690.6" y="217.8" width="11" height="5.4" rx="2.7" fill="#9400d3"/>
<text class="ll" x="706.2" y="223.25" textLength="50.9" lengthAdjust="spacingAndGlyphs">North Burbank Unit</text>
<rect x="690.6" y="226.04" width="11" height="5.4" rx="2.7" fill="#6b2565"/>
<text class="ll" x="706.2" y="231.49" textLength="61.7" lengthAdjust="spacingAndGlyphs">Petra Nova West Ranch</text>
<rect x="690.6" y="234.29" width="11" height="5.4" rx="2.7" fill="#8e2fe0"/>
<text class="ll" x="706.2" y="239.74" textLength="80.7" lengthAdjust="spacingAndGlyphs">Red Hills Gas Processing Plant</text>
<rect x="690.6" y="242.53" width="11" height="5.4" rx="2.7" fill="#a818a8"/>
<text class="ll" x="706.2" y="247.98" textLength="55.8" lengthAdjust="spacingAndGlyphs">Red Trail Energy, LLC</text>
<rect x="690.6" y="250.78" width="11" height="5.4" rx="2.7" fill="#b64fe0"/>
<text class="ll" x="706.2" y="256.23" textLength="67.1" lengthAdjust="spacingAndGlyphs">Seminole East Field (SEF)</text>
<rect x="690.6" y="259.02" width="11" height="5.4" rx="2.7" fill="#7b2f9e"/>
<text class="ll" x="706.2" y="264.47" textLength="68.2" lengthAdjust="spacingAndGlyphs">Seminole San Andres Unit</text>
<rect x="690.6" y="267.27" width="11" height="5.4" rx="2.7" fill="#d8bfd8"/>
<text class="ll" x="706.2" y="272.72" textLength="32" lengthAdjust="spacingAndGlyphs">Shute Creek</text>
<rect x="690.6" y="275.51" width="11" height="5.4" rx="2.7" fill="#cc60fc"/>
<text class="ll" x="706.2" y="280.96" textLength="83.1" lengthAdjust="spacingAndGlyphs">West Seminole San Andres Unit</text>
<rect x="687.8" y="283.95" width="249.8" height="10.35" rx="0.7" fill="#800080"/>
<text class="lh" x="692.1" y="291.32" textLength="20.8" lengthAdjust="spacingAndGlyphs">Canada</text>
<rect x="690.6" y="296.4" width="11" height="5.4" rx="2.7" fill="#dadaeb"/>
<text class="ll" x="706.2" y="301.85" textLength="88.8" lengthAdjust="spacingAndGlyphs">Alberta Carbon Trunk Line (ACTL)</text>
<rect x="690.6" y="304.65" width="11" height="5.4" rx="2.7" fill="#9e9ac8"/>
<text class="ll" x="706.2" y="310.1" textLength="24.7" lengthAdjust="spacingAndGlyphs">Aquistore</text>
<rect x="690.6" y="312.89" width="11" height="5.4" rx="2.7" fill="#bcbddc"/>
<text class="ll" x="706.2" y="318.34" textLength="15.2" lengthAdjust="spacingAndGlyphs">Quest</text>
<rect x="690.6" y="321.14" width="11" height="5.4" rx="2.7" fill="#807dba"/>
<text class="ll" x="706.2" y="326.59" textLength="43.3" lengthAdjust="spacingAndGlyphs">Weyburn-Midale</text>
<rect x="687.8" y="329.35" width="249.8" height="10.35" rx="0.7" fill="#007bff"/>
<text class="lh" x="692.1" y="336.72" textLength="20.8" lengthAdjust="spacingAndGlyphs">Norway</text>
<rect x="690.6" y="341.85" width="11" height="5.4" rx="2.7" fill="#007bff"/>
<text class="ll" x="706.2" y="347.3" textLength="21.4" lengthAdjust="spacingAndGlyphs">Sleipner</text>
<rect x="690.6" y="350.1" width="11" height="5.4" rx="2.7" fill="#0066cc"/>
<text class="ll" x="706.2" y="355.55" textLength="19.3" lengthAdjust="spacingAndGlyphs">Snohvit</text>
<rect x="687.8" y="358.05" width="249.8" height="10.3" rx="0.7" fill="#089294"/>
<text class="lh" x="692.1" y="365.4" textLength="20" lengthAdjust="spacingAndGlyphs">Iceland</text>
<rect x="690.6" y="370.65" width="11" height="5.4" rx="2.7" fill="#089294"/>
<text class="ll" x="706.2" y="376.1" textLength="41.2" lengthAdjust="spacingAndGlyphs">Carbfix Storage</text>
<rect x="687.8" y="379.3" width="249.8" height="10.35" rx="0.7" fill="#92c5de"/>
<text class="lh" x="692.1" y="386.68" textLength="20" lengthAdjust="spacingAndGlyphs">Croatia</text>
<rect x="690.6" y="391.35" width="11" height="5.4" rx="2.7" fill="#92c5de"/>
<text class="ll" x="706.2" y="396.8" textLength="62.3" lengthAdjust="spacingAndGlyphs">CO2 EOR Project Crotia</text>
<rect x="687.8" y="400" width="249.8" height="10.1" rx="0.7" fill="#f0b244"/>
<text class="lh" x="692.1" y="407.25" textLength="59.2" lengthAdjust="spacingAndGlyphs">United Arab Emirates</text>
<rect x="690.6" y="412.35" width="11" height="5.4" rx="2.7" fill="#f0b244"/>
<text class="ll" x="706.2" y="417.8" textLength="50.9" lengthAdjust="spacingAndGlyphs">ADNOC Al Reyadah</text>
<rect x="687.8" y="420.9" width="249.8" height="10.4" rx="0.7" fill="#a0613e"/>
<text class="lh" x="692.1" y="428.3" textLength="35.1" lengthAdjust="spacingAndGlyphs">Saudi Arabia</text>
<rect x="690.6" y="433.1" width="11" height="5.4" rx="2.7" fill="#a0613e"/>
<text class="ll" x="706.2" y="438.55" textLength="228.1" lengthAdjust="spacingAndGlyphs">Uthmaniyah Carbon Dioxide Enhanced Oil Recovery (CO2-EOR) Demonstration Project</text>
<rect x="687.8" y="441.9" width="249.8" height="10" rx="0.7" fill="#d2773a"/>
<text class="lh" x="692.1" y="449.1" textLength="14.9" lengthAdjust="spacingAndGlyphs">Qatar</text>
<rect x="690.6" y="454.25" width="11" height="5.4" rx="2.7" fill="#d2773a"/>
<text class="ll" x="706.2" y="459.7" textLength="27.4" lengthAdjust="spacingAndGlyphs">Qatar LNG</text>
<rect x="687.8" y="462.7" width="249.8" height="10.1" rx="0.7" fill="#ff9999"/>
<text class="lh" x="692.1" y="469.95" textLength="16.2" lengthAdjust="spacingAndGlyphs">Japan</text>
<rect x="690.6" y="474.75" width="11" height="5.4" rx="2.7" fill="#ff9999"/>
<text class="ll" x="706.2" y="480.2" textLength="103.7" lengthAdjust="spacingAndGlyphs">Tomakomai CCS Demonstration Project</text>
<rect x="687.8" y="483.9" width="249.8" height="10.1" rx="0.7" fill="#f03232"/>
<text class="lh" x="692.1" y="491.15" textLength="15.7" lengthAdjust="spacingAndGlyphs">China</text>
<rect x="690.6" y="495.5" width="11" height="5.4" rx="2.7" fill="#d0453c"/>
<text class="ll" x="706.2" y="500.95" textLength="40.1" lengthAdjust="spacingAndGlyphs">Caoshe Oilfield</text>
<rect x="690.6" y="503.75" width="11" height="5.4" rx="2.7" fill="#8b1f38"/>
<text class="ll" x="706.2" y="509.19" textLength="38.7" lengthAdjust="spacingAndGlyphs">Huabei Oilfield</text>
<rect x="690.6" y="511.99" width="11" height="5.4" rx="2.7" fill="#e0504a"/>
<text class="ll" x="706.2" y="517.44" textLength="30.6" lengthAdjust="spacingAndGlyphs">Jilin Oilfield</text>
<rect x="690.6" y="520.23" width="11" height="5.4" rx="2.7" fill="#d4433a"/>
<text class="ll" x="706.2" y="525.68" textLength="42.3" lengthAdjust="spacingAndGlyphs">Jingbian Oilfield</text>
<rect x="690.6" y="528.48" width="11" height="5.4" rx="2.7" fill="#ee4540"/>
<text class="ll" x="706.2" y="533.93" textLength="44.7" lengthAdjust="spacingAndGlyphs">Karamay Dunhua</text>
<rect x="690.6" y="536.72" width="11" height="5.4" rx="2.7" fill="#a02a4c"/>
<text class="ll" x="706.2" y="542.17" textLength="37.7" lengthAdjust="spacingAndGlyphs">Liaohe Oilfield</text>
<rect x="690.6" y="544.97" width="11" height="5.4" rx="2.7" fill="#fff1ee"/>
<text class="ll" x="706.2" y="550.42" textLength="41.7" lengthAdjust="spacingAndGlyphs">ShengLi Oilfield</text>
<rect x="690.6" y="553.21" width="11" height="5.4" rx="2.7" fill="#e25550"/>
<text class="ll" x="706.2" y="558.66" textLength="40.1" lengthAdjust="spacingAndGlyphs">Shenhua Ordos</text>
<rect x="690.6" y="561.46" width="11" height="5.4" rx="2.7" fill="#c02a44"/>
<text class="ll" x="706.2" y="566.91" textLength="40.9" lengthAdjust="spacingAndGlyphs">Xinjiang Oilfield</text>
<rect x="690.6" y="569.7" width="11" height="5.4" rx="2.7" fill="#fbb4ae"/>
<text class="ll" x="706.2" y="575.15" textLength="54.4" lengthAdjust="spacingAndGlyphs">Xinjiang Ordos Basin</text>
<rect x="690.6" y="577.95" width="11" height="5.4" rx="2.7" fill="#fdd3c6"/>
<text class="ll" x="706.2" y="583.4" textLength="94.7" lengthAdjust="spacingAndGlyphs">Yanchang Integrated Demonstration</text>
<rect x="690.6" y="586.19" width="11" height="5.4" rx="2.7" fill="#fbe2d8"/>
<text class="ll" x="706.2" y="591.64" textLength="49.6" lengthAdjust="spacingAndGlyphs">Zhongyuan Oilfield</text>
</g>
<text x="348" y="602.6" font-size="7.55px" fill="#6b6b6b" textLength="271.4" lengthAdjust="spacingAndGlyphs">Figure 1: Annual amounts of CO₂ stored by project (Update Date: 12-Nov-25)</text>
</svg></body></html>
